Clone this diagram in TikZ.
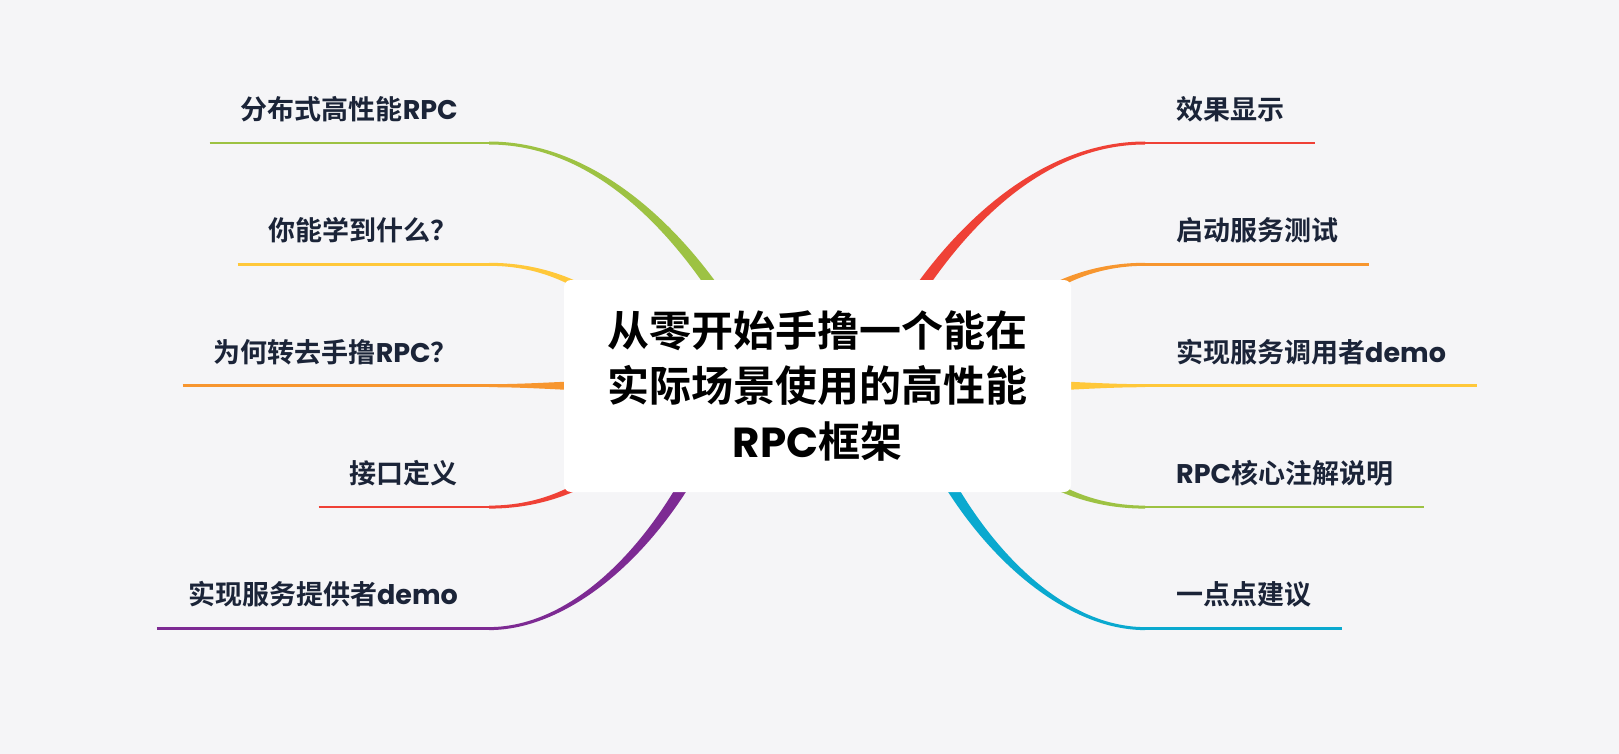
\documentclass[tikz,border=0pt]{standalone}
\usepackage{fontspec}
\usepackage{xcolor}
\setmainfont{Poppins}
\newfontfamily\cjk{Noto Sans CJK SC}[BoldFont={* Bold}]
\definecolor{mmbg}{HTML}{F5F5F7}
\definecolor{mmgreen}{HTML}{9DC243}
\definecolor{mmyellow}{HTML}{FFC83A}
\definecolor{mmorange}{HTML}{F7962F}
\definecolor{mmred}{HTML}{EF4136}
\definecolor{mmpurple}{HTML}{7D2A93}
\definecolor{mmcyan}{HTML}{0AA9CF}
\definecolor{mmtext}{HTML}{1B2438}
\usetikzlibrary{calc}
\newcommand\lblfont{\fontsize{27}{32}\selectfont\bfseries}
\newcommand\rootfont{\fontsize{42}{55.5}\selectfont\bfseries}
% tapered branch: colour, start, control 1, control 2, end
\newcommand\branch[5]{%
  \fill[#1] ($(#2)!1.5pt!90:(#3)$) .. controls ($(#3)!1.5pt!-90:(#2)$) and ($(#4)!6.5pt!90:(#5)$) .. ($(#5)!6.5pt!-90:(#4)$)
    -- ($(#5)!6.5pt!90:(#4)$) .. controls ($(#4)!6.5pt!-90:(#5)$) and ($(#3)!1.5pt!90:(#2)$) .. ($(#2)!1.5pt!-90:(#3)$) -- cycle;}

\begin{document}
\begin{tikzpicture}[
  x=1pt,y=-1pt,
  lbl/.style={font=\lblfont,text=mmtext,inner xsep=31pt,inner ysep=0pt,text height=20pt,text depth=23.5pt},
  lleft/.style={lbl,anchor=south east},
  lright/.style={lbl,anchor=south west},
  ul/.style={line width=2.6pt},
  root/.style={fill=white,rounded corners=7pt,minimum width=507pt,minimum height=212pt,
    inner sep=0pt,align=center,font=\rootfont,text=black}
]
  \fill[mmbg] (0,0) rectangle (1619,754);

  % Left branches
  \node[lleft] (l1) at (489,143) {{\cjk 分布式高性能}RPC};
  \node[lleft] (l2) at (489,264.3) {{\cjk 你能学到什么？}};
  \node[lleft] (l3) at (489,385.7) {{\cjk 为何转去手撸}RPC{\cjk ？}};
  \node[lleft] (l4) at (489,507.1) {{\cjk 接口定义}};
  \node[lleft] (l5) at (489,628.6) {{\cjk 实现服务提供者}demo};
  % Right branches
  \node[lright] (r1) at (1145,143) {{\cjk 效果显示}};
  \node[lright] (r2) at (1145,264.3) {{\cjk 启动服务测试}};
  \node[lright] (r3) at (1145,385.7) {{\cjk 实现服务调用者}demo};
  \node[lright] (r4) at (1145,507.1) {RPC{\cjk 核心注解说明}};
  \node[lright] (r5) at (1145,628.6) {{\cjk 一点点建议}};

  % ends of the branches, under the title box
  \coordinate (el1) at (770,386);
  \coordinate (el2) at (680,386);
  \coordinate (el3) at (640,386);
  \coordinate (el4) at (680,386);
  \coordinate (el5) at (730,386);
  \coordinate (er1) at (864,386);
  \coordinate (er2) at (954,386);
  \coordinate (er3) at (994,386);
  \coordinate (er4) at (954,386);
  \coordinate (er5) at (904,386);

  \draw[ul,mmgreen] (l1.south west) -- (l1.south east);
  \draw[ul,mmyellow] (l2.south west) -- (l2.south east);
  \draw[ul,mmorange] (l3.south west) -- (l3.south east);
  \draw[ul,mmred] (l4.south west) -- (l4.south east);
  \draw[ul,mmpurple] (l5.south west) -- (l5.south east);
  \draw[ul,mmred] (r1.south west) -- (r1.south east);
  \draw[ul,mmorange] (r2.south west) -- (r2.south east);
  \draw[ul,mmyellow] (r3.south west) -- (r3.south east);
  \draw[ul,mmgreen] (r4.south west) -- (r4.south east);
  \draw[ul,mmcyan] (r5.south west) -- (r5.south east);

  \branch{mmgreen}{l1.south east}{600,143}{700,240}{el1}
  \branch{mmyellow}{l2.south east}{550,264.3}{620,290}{el2}
  \branch{mmorange}{l3.south east}{540,385.7}{590,385.7}{el3}
  \branch{mmred}{l4.south east}{550,507.1}{620,482}{el4}
  \branch{mmpurple}{l5.south east}{580,628.6}{680,530}{el5}
  \branch{mmred}{r1.south west}{1034,143}{934,240}{er1}
  \branch{mmorange}{r2.south west}{1084,264.3}{1014,290}{er2}
  \branch{mmyellow}{r3.south west}{1094,385.7}{1044,385.7}{er3}
  \branch{mmgreen}{r4.south west}{1084,507.1}{1014,482}{er4}
  \branch{mmcyan}{r5.south west}{1054,628.6}{954,530}{er5}

  % Title
  \node[root] (root) at (817.5,386) {{\cjk 从零开始手撸一个能在}\\{\cjk 实际场景使用的高性能}\\RPC{\cjk 框架}};
\end{tikzpicture}
\end{document}
